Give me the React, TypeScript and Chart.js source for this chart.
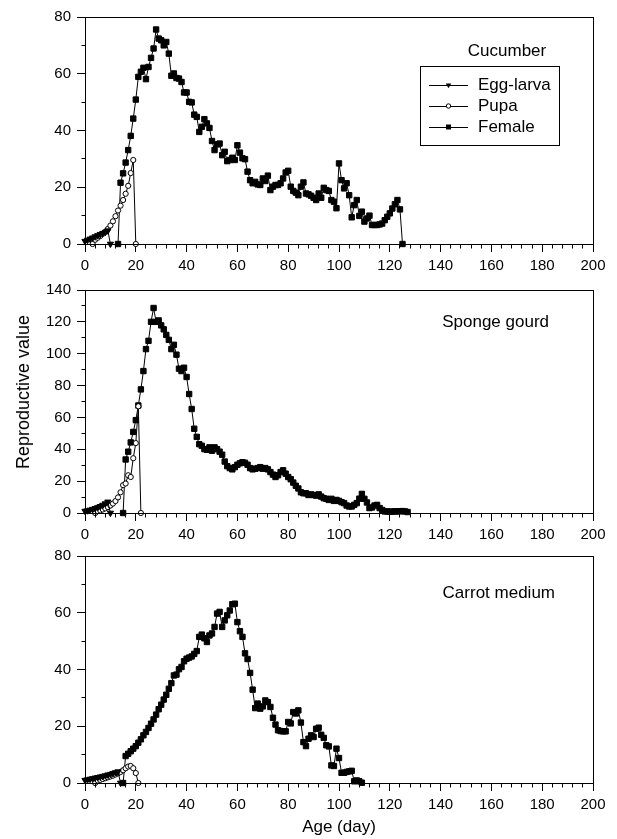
import React, { useEffect, useRef } from 'react';
import { Chart, registerables } from 'chart.js';

Chart.register(...registerables);

const FONT = "'Liberation Sans', Arial, Helvetica, sans-serif";

// ---------- shared axis ----------
const xMin = 0;
const xMax = 200;
const xMajorStep = 20;
const xMinorStep = 4;
const yMajorStep = 20;
const yMinorStep = 10;

const legendLabels = ['Egg-larva', 'Pupa', 'Female'];

// ---------- Cucumber ----------
const cucumberEggStart = 0;
const cucumberEgg = [1.0, 1.4, 1.8, 2.2, 2.6, 3.0, 3.4, 3.8, 4.2, 4.7, 0];
const cucumberPupaStart = 3;
const cucumberPupa = [0, 1.5, 2.2, 2.8, 3.6, 4.3, 5.3, 6.5, 8.0, 9.8, 11.8, 13.5, 15.5, 17.7, 20.5, 25.0, 29.6, 0];
const cucumberFemaleStart = 13;
const cucumberFemale = [
  0, 21.6, 24.9, 28.7, 33.1, 38.1, 44.2, 50.9, 58.9, 60.7,
  62.1, 58.1, 62.4, 65.6, 68.9, 75.6, 72.4, 71.8, 70.0, 71.2,
  67.1, 59.3, 60.1, 58.5, 58.3, 57.1, 53.4, 53.4, 50.1, 49.9,
  45.6, 44.8, 39.5, 41.3, 44.0, 42.5, 40.9, 36.3, 33.1, 35.1,
  35.4, 31.3, 32.5, 29.2, 29.6, 30.4, 29.6, 34.8, 32.2, 30.2,
  29.9, 25.5, 22.5, 21.4, 21.9, 21.0, 20.8, 23.1, 22.2, 24.1,
  19.0, 20.2, 20.8, 20.8, 21.4, 23.1, 25.2, 25.8, 20.2, 18.7,
  18.1, 17.2, 20.2, 21.7, 17.8, 17.5, 17.0, 16.3, 15.5, 17.8,
  16.3, 19.8, 19.0, 18.7, 15.5, 14.9, 12.6, 28.4, 22.5, 19.6,
  21.4, 17.2, 9.4, 13.7, 15.5, 9.9, 11.4, 7.9, 9.0, 10.0,
  6.7, 6.7, 6.7, 6.9, 7.2, 8.4, 9.6, 10.8, 12.5, 14.0,
  15.5, 12.2, 0,
];
const cucumberYMax = 80;

// ---------- Sponge gourd ----------
const spongeEggStart = 0;
const spongeEgg = [1.2, 1.5, 1.9, 2.4, 2.9, 3.5, 4.2, 5.0, 5.9, 7.0, 0];
const spongePupaStart = 4;
const spongePupa = [0, 1.2, 1.6, 2.2, 2.9, 3.7, 4.7, 5.9, 7.5, 9.8, 13.0, 17.5, 18.5, 23.7, 22.6, 34.4, 43.9, 67.0, 0];
const spongeFemaleStart = 15;
const spongeFemale = [
  0, 33.6, 38.5, 44.3, 50.9, 58.3, 67.5, 77.6, 89.1, 102.9,
  108.1, 120.0, 128.7, 120.0, 120.9, 117.8, 115.3, 111.8, 108.7, 102.9,
  105.6, 99.4, 90.6, 89.1, 91.2, 85.4, 74.7, 65.3, 52.9, 47.8,
  43.2, 42.2, 40.1, 39.7, 41.2, 39.1, 41.2, 40.1, 38.5, 36.6,
  32.3, 29.4, 28.2, 27.4, 28.8, 30.3, 31.2, 31.9, 31.5, 30.3,
  28.2, 27.4, 27.8, 28.2, 28.8, 27.8, 28.2, 27.4, 25.7, 24.1,
  22.6, 23.7, 25.7, 26.8, 24.7, 22.6, 21.2, 19.1, 17.1, 15.4,
  13.0, 12.4, 12.4, 11.3, 11.7, 11.3, 10.9, 11.7, 10.3, 9.3,
  8.9, 8.2, 8.9, 7.6, 8.2, 7.6, 6.8, 6.2, 4.7, 4.1,
  4.1, 5.1, 6.2, 9.0, 12.0, 8.9, 6.6, 3.1, 3.5, 4.7,
  5.1, 3.1, 1.9, 1.0, 1.0, 0.8, 0.9, 1.0, 1.0, 1.1,
  1.2, 1.0, 0.6,
];
const spongeYMax = 140;

// ---------- Carrot medium ----------
const carrotEggStart = 0;
const carrotEgg = [1.0, 1.2, 1.4, 1.6, 1.8, 2.0, 2.2, 2.4, 2.6, 2.9, 3.1, 3.4, 3.7, 4.0, 0];
const carrotPupaStart = 4;
const carrotPupa = [0, 0.9, 1.1, 1.4, 1.7, 2.0, 2.3, 2.6, 3.0, 3.4, 3.9, 4.5, 5.2, 5.8, 6.0, 5.2, 3.5, 0];
const carrotFemaleStart = 15;
const carrotFemale = [
  0, 9.5, 10.3, 11.2, 12.1, 13.0, 14.2, 15.4, 16.8, 18.0,
  19.4, 20.9, 22.4, 24.1, 26.0, 27.6, 29.4, 31.1, 33.2, 35.2,
  37.9, 38.2, 40.1, 40.9, 42.9, 43.8, 44.2, 44.6, 45.5, 46.5,
  51.5, 52.3, 51.0, 49.7, 52.0, 52.7, 55.0, 59.7, 60.3, 55.0,
  57.3, 59.1, 60.8, 63.0, 63.2, 56.7, 53.5, 51.5, 45.7, 43.7,
  38.8, 32.9, 26.4, 28.0, 26.2, 27.0, 29.1, 28.5, 26.8, 23.0,
  20.6, 18.6, 18.3, 18.2, 18.2, 21.5, 21.0, 25.0, 24.5, 25.6,
  21.3, 14.4, 13.0, 15.6, 16.8, 16.2, 19.1, 19.5, 17.0, 15.9,
  13.3, 12.9, 6.2, 6.0, 12.1, 8.8, 3.6, 3.6, 3.9, 4.1,
  4.3, 0.6, 0.9, 0.6, 0.1,
];
const carrotYMax = 80;

type PanelProps = {
  top: number;
  height: number;
  padTop: number;
  xAxisHeight: number;
  yMax: number;
  eggStart: number;
  egg: number[];
  pupaStart: number;
  pupa: number[];
  femaleStart: number;
  female: number[];
  label: string;
  labelX: number;
  labelY: number;
  labelAlign: CanvasTextAlign;
  legend: boolean;
};

const toPoints = (start: number, vals: number[]) => vals.map((v, i) => ({ x: start + i, y: v }));

const al = (v: number) => Math.round(v - 0.5) + 0.5;

function drawTri(ctx: CanvasRenderingContext2D, x: number, y: number, r: number) {
  ctx.beginPath();
  ctx.moveTo(x, y + r);
  ctx.lineTo(x - r * 0.866, y - r * 0.5);
  ctx.lineTo(x + r * 0.866, y - r * 0.5);
  ctx.closePath();
  ctx.fill();
}

function Panel(p: PanelProps) {
  const ref = useRef<HTMLCanvasElement | null>(null);
  useEffect(() => {
    const canvas = ref.current;
    if (!canvas) return;
    const deco = {
      id: 'deco' + p.label,
      afterDraw(chart: any) {
        const ctx: CanvasRenderingContext2D = chart.ctx;
        const a = chart.chartArea;
        const xs = chart.scales.x;
        const ys = chart.scales.y;
        ctx.save();
        ctx.strokeStyle = '#000';
        ctx.lineWidth = 1;
        // frame
        ctx.strokeRect(al(a.left), al(a.top), Math.round(a.right - a.left), Math.round(a.bottom - a.top));
        // minor ticks
        ctx.beginPath();
        for (let v = xMin; v <= xMax; v += xMinorStep) {
          if (v % xMajorStep === 0) continue;
          const px = al(xs.getPixelForValue(v));
          ctx.moveTo(px, al(a.bottom));
          ctx.lineTo(px, al(a.bottom) + 4);
        }
        for (let v = yMinorStep; v < p.yMax; v += yMinorStep) {
          if (v % yMajorStep === 0) continue;
          const py = al(ys.getPixelForValue(v));
          ctx.moveTo(al(a.left) - 4, py);
          ctx.lineTo(al(a.left), py);
        }
        ctx.stroke();
        // panel label
        ctx.fillStyle = '#000';
        ctx.font = `17px ${FONT}`;
        ctx.textAlign = p.labelAlign;
        ctx.textBaseline = 'middle';
        ctx.fillText(p.label, p.labelX, p.labelY - p.top);
        // legend
        if (p.legend) {
          const bx = 420.5, by = 66.5 - p.top, bw = 139, bh = 79;
          ctx.strokeRect(bx, by, bw, bh);
          const rows = [85, 106, 127];
          const lx0 = 429, lx1 = 468, mx = 448.5, tx = 478;
          rows.forEach((ry, i) => {
            const y = ry - p.top;
            ctx.beginPath();
            ctx.moveTo(lx0, al(y));
            ctx.lineTo(lx1, al(y));
            ctx.stroke();
            ctx.fillStyle = '#000';
            if (i === 0) {
              drawTri(ctx, mx, y, 3.2);
            } else if (i === 1) {
              ctx.beginPath();
              ctx.arc(mx, y, 2.2, 0, Math.PI * 2);
              ctx.fillStyle = '#fff';
              ctx.fill();
              ctx.stroke();
            } else {
              ctx.fillRect(mx - 2.5, y - 2.5, 5, 5);
            }
            ctx.fillStyle = '#000';
            ctx.textAlign = 'left';
            ctx.textBaseline = 'middle';
            ctx.fillText(legendLabels[i], tx, y);
          });
        }
        ctx.restore();
      },
    };
    const tickFont = { family: FONT, size: 15 };
    const chart = new Chart(canvas, {
      type: 'line',
      data: {
        datasets: [
          {
            label: legendLabels[0],
            data: toPoints(p.eggStart, p.egg),
            borderColor: '#000',
            borderWidth: 1,
            pointStyle: 'triangle',
            rotation: 180,
            pointRadius: 3.6,
            pointBackgroundColor: '#000',
            pointBorderColor: '#000',
            pointBorderWidth: 1,
            tension: 0,
            clip: false,
          } as any,
          {
            label: legendLabels[1],
            data: toPoints(p.pupaStart, p.pupa),
            borderColor: '#000',
            borderWidth: 1,
            pointStyle: 'circle',
            pointRadius: 2.6,
            pointBackgroundColor: '#fff',
            pointBorderColor: '#000',
            pointBorderWidth: 1,
            tension: 0,
            clip: false,
          } as any,
          {
            label: legendLabels[2],
            data: toPoints(p.femaleStart, p.female),
            borderColor: '#000',
            borderWidth: 1,
            pointStyle: 'rect',
            pointRadius: 3.8,
            pointBackgroundColor: '#000',
            pointBorderColor: '#000',
            pointBorderWidth: 1,
            tension: 0,
            clip: false,
          } as any,
        ],
      },
      options: {
        responsive: false,
        animation: false,
        devicePixelRatio: 1,
        events: [],
        layout: { padding: { top: p.padTop, right: 24, left: 0, bottom: 0 } },
        plugins: { legend: { display: false }, tooltip: { enabled: false } },
        scales: {
          x: {
            type: 'linear',
            min: xMin,
            max: xMax,
            ticks: { stepSize: xMajorStep, autoSkip: false, maxRotation: 0, color: '#000', font: tickFont, padding: 5 },
            grid: { drawOnChartArea: false, drawTicks: true, tickLength: 8, color: '#000', lineWidth: 1 },
            border: { display: false },
            afterFit: (s: any) => {
              s.height = p.xAxisHeight;
            },
          },
          y: {
            type: 'linear',
            min: 0,
            max: p.yMax,
            ticks: { stepSize: yMajorStep, color: '#000', font: tickFont, padding: 6 },
            grid: { drawOnChartArea: false, drawTicks: true, tickLength: 8, color: '#000', lineWidth: 1 },
            border: { display: false },
            afterFit: (s: any) => {
              s.width = 85;
            },
          },
        },
      } as any,
      plugins: [deco],
    });
    return () => chart.destroy();
  }, []);
  return (
    <canvas
      ref={ref}
      width={617}
      height={p.height}
      style={{ position: 'absolute', left: 0, top: p.top, width: 617, height: p.height }}
    />
  );
}

export default function App() {
  return (
    <div
      style={{
        position: 'fixed',
        left: 0,
        top: 0,
        width: 617,
        height: 839,
        background: '#fff',
        overflow: 'hidden',
        fontFamily: FONT,
      }}
    >
      <Panel
        top={0}
        height={275}
        padTop={17}
        xAxisHeight={31}
        yMax={cucumberYMax}
        eggStart={cucumberEggStart}
        egg={cucumberEgg}
        pupaStart={cucumberPupaStart}
        pupa={cucumberPupa}
        femaleStart={cucumberFemaleStart}
        female={cucumberFemale}
        label="Cucumber"
        labelX={507}
        labelY={51}
        labelAlign="center"
        legend={true}
      />
      <Panel
        top={275}
        height={265}
        padTop={12}
        xAxisHeight={27}
        yMax={spongeYMax}
        eggStart={spongeEggStart}
        egg={spongeEgg}
        pupaStart={spongePupaStart}
        pupa={spongePupa}
        femaleStart={spongeFemaleStart}
        female={spongeFemale}
        label="Sponge gourd"
        labelX={549}
        labelY={322}
        labelAlign="right"
        legend={false}
      />
      <Panel
        top={540}
        height={299}
        padTop={16}
        xAxisHeight={56}
        yMax={carrotYMax}
        eggStart={carrotEggStart}
        egg={carrotEgg}
        pupaStart={carrotPupaStart}
        pupa={carrotPupa}
        femaleStart={carrotFemaleStart}
        female={carrotFemale}
        label="Carrot medium"
        labelX={555}
        labelY={593}
        labelAlign="right"
        legend={false}
      />
      <div
        style={{
          position: 'absolute',
          left: 23,
          top: 392,
          transform: 'translate(-50%, -50%) rotate(-90deg)',
          fontSize: 18,
          whiteSpace: 'nowrap',
          color: '#000',
          lineHeight: 1,
        }}
      >
        Reproductive value
      </div>
      <div
        style={{
          position: 'absolute',
          left: 339,
          top: 826,
          transform: 'translate(-50%, -50%)',
          fontSize: 17,
          whiteSpace: 'nowrap',
          color: '#000',
          lineHeight: 1,
        }}
      >
        Age (day)
      </div>
    </div>
  );
}
